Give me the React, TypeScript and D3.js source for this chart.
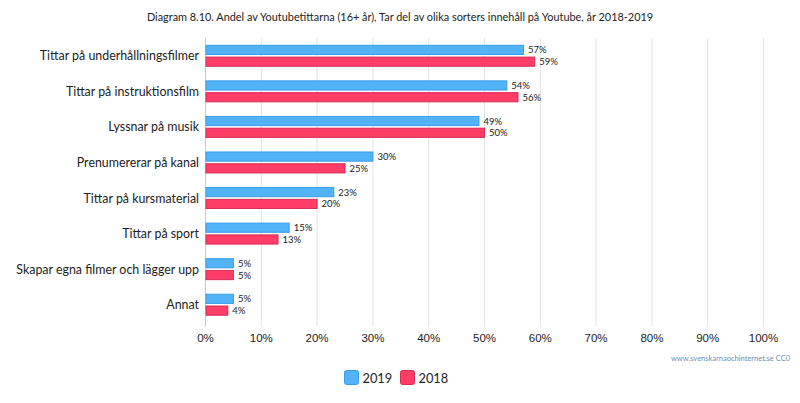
import React, { useEffect, useRef } from "react";
import * as d3 from "d3";

const categories = [
  "Tittar på underhållningsfilmer",
  "Tittar på instruktionsfilm",
  "Lyssnar på musik",
  "Prenumererar på kanal",
  "Tittar på kursmaterial",
  "Tittar på sport",
  "Skapar egna filmer och lägger upp",
  "Annat",
];
const series2019 = [57, 54, 49, 30, 23, 15, 5, 5];
const series2018 = [59, 56, 50, 25, 20, 13, 5, 4];
const seriesNames = ["2019", "2018"];
const xTicks = [0, 10, 20, 30, 40, 50, 60, 70, 80, 90, 100];
const title =
  "Diagram 8.10. Andel av Youtubetittarna (16+ år), Tar del av olika sorters innehåll på Youtube, år 2018-2019";
const credit = "www.svenskarnaochinternet.se CC0";

const W = 800;
const H = 403;
const FONT = "Lato, 'Open Sans', sans-serif";
const AXFONT = "'Liberation Sans', Arial, sans-serif";
const fills = ["#52b3f8", "#ff3d67"];
const strokes = ["#3a9de6", "#d62d55"];

export default function App() {
  const ref = useRef<SVGSVGElement>(null);
  useEffect(() => {
    const svg = d3.select(ref.current);
    svg.selectAll("*").remove();
    const left = 205.5,
      right = 763.5,
      top = 38,
      bottom = 322.5;
    const x = d3.scaleLinear().domain([0, 100]).range([left, right]);
    const y = d3.scaleBand<string>().domain(categories).range([top, bottom]);
    const inner = d3
      .scaleBand<string>()
      .domain(seriesNames)
      .range([0, y.bandwidth()])
      .paddingInner(0.22)
      .paddingOuter(0.62);

    svg
      .append("text")
      .attr("x", 400)
      .attr("y", 20.5)
      .attr("text-anchor", "middle")
      .attr("font-family", FONT)
      .attr("font-size", 10.9)
      .attr("fill", "#222")
      .text(title);

    const g = svg.append("g");
    g.selectAll("line.grid")
      .data(xTicks.slice(1))
      .join("line")
      .attr("x1", (d) => x(d))
      .attr("x2", (d) => x(d))
      .attr("y1", top)
      .attr("y2", bottom + 4)
      .attr("stroke", "#e3e3e3")
      .attr("stroke-width", 1);
    g.append("line")
      .attr("x1", x(0))
      .attr("x2", x(0))
      .attr("y1", top)
      .attr("y2", bottom + 4)
      .attr("stroke", "#c8c8c8");

    g.selectAll("text.xt")
      .data(xTicks)
      .join("text")
      .attr("x", (d) => x(d))
      .attr("y", 342)
      .attr("text-anchor", "middle")
      .attr("font-family", AXFONT)
      .attr("font-size", 11.5)
      .attr("fill", "#222")
      .text((d) => `${d}%`);

    g.selectAll("text.cat")
      .data(categories)
      .join("text")
      .attr("x", 199)
      .attr("y", (d) => (y(d) as number) + y.bandwidth() / 2 + 4.5)
      .attr("text-anchor", "end")
      .attr("font-family", FONT)
      .attr("font-size", 12.4)
      .attr("fill", "#222")
      .text((d) => d);

    const all = [series2019, series2018];
    all.forEach((vals, si) => {
      const rows = categories.map((c, i) => ({ c, v: vals[i] }));
      const gy = (d: { c: string }) =>
        (y(d.c) as number) + (inner(seriesNames[si]) as number);
      g.selectAll(`rect.s${si}`)
        .data(rows)
        .join("rect")
        .attr("x", x(0) + 0.5)
        .attr("y", gy)
        .attr("width", (d) => x(d.v) - x(0) - 0.5)
        .attr("height", inner.bandwidth())
        .attr("fill", fills[si])
        .attr("stroke", strokes[si])
        .attr("stroke-width", 1);
      g.selectAll(`text.v${si}`)
        .data(rows)
        .join("text")
        .attr("x", (d) => x(d.v) + 4.5)
        .attr("y", (d) => gy(d) + inner.bandwidth() / 2 + 3.5)
        .attr("font-family", FONT)
        .attr("font-size", 9.5)
        .attr("fill", "#222")
        .text((d) => `${d.v}%`);
    });

    svg
      .append("text")
      .attr("x", 790)
      .attr("y", 360.5)
      .attr("text-anchor", "end")
      .attr("font-family", FONT)
      .attr("font-size", 7.5)
      .attr("fill", "#6f8db0")
      .text(credit);

    const lg = svg.append("g");
    const legX = [344, 400];
    seriesNames.forEach((n, i) => {
      lg.append("rect")
        .attr("x", legX[i] + 0.5)
        .attr("y", 370.5)
        .attr("width", 14)
        .attr("height", 14)
        .attr("rx", 2)
        .attr("fill", fills[i])
        .attr("stroke", strokes[i]);
      lg.append("text")
        .attr("x", legX[i] + 18.5)
        .attr("y", 382.5)
        .attr("font-family", FONT)
        .attr("font-size", 12.8)
        .attr("fill", "#222")
        .text(n);
    });
  }, []);
  return (
    <svg
      ref={ref}
      width={W}
      height={H}
      style={{ position: "absolute", left: 0, top: 0, background: "#fff" }}
    />
  );
}
